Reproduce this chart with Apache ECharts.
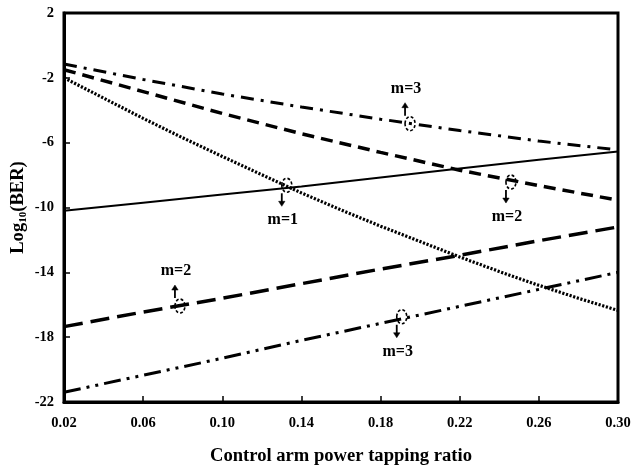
<!DOCTYPE html>
<html>
<head>
<meta charset="utf-8">
<script src="https://cdn.jsdelivr.net/npm/echarts@6/dist/echarts.min.js"></script>
<style>
  html, body { margin: 0; padding: 0; background: #fff; }
  #chart { width: 632px; height: 467px; }
</style>
</head>
<body>
<div id="chart"></div>
<script>
// ---- data ----
var xTicks = [0.02, 0.06, 0.10, 0.14, 0.18, 0.22, 0.26, 0.30];
var yTicks = [2, -2, -6, -10, -14, -18, -22];

var xFine = [0.02, 0.04, 0.06, 0.08, 0.10, 0.12, 0.14, 0.16, 0.18, 0.20, 0.22, 0.24, 0.26, 0.28, 0.30];
var xCoarse = [0.02, 0.06, 0.10, 0.14, 0.18, 0.22, 0.26, 0.30];

// m=1 (dotted, falling)
var m1Down = [-2.0, -3.25, -4.5, -5.7, -6.85, -7.98, -9.1, -10.15, -11.15, -12.1, -13.05, -13.95, -14.8, -15.6, -16.35];
// m=1 (solid, rising)
var m1Up = [-10.2, -9.7, -9.2, -8.7, -8.15, -7.6, -7.05, -6.55];
// m=2 (dashed, falling)
var m2Down = [-1.5, -2.85, -4.2, -5.45, -6.6, -7.7, -8.65, -9.55];
// m=3 (dash-dot, falling)
var m3Down = [-1.15, -2.1, -3.0, -3.8, -4.55, -5.25, -5.9, -6.45];
// m=2 (long dash, rising)
var m2Up = [-17.35, -16.45, -15.6, -14.7, -13.8, -12.95, -12.05, -11.2];
// m=3 (dash-dot-dot, rising)
var m3Up = [-21.4, -20.35, -19.3, -18.2, -17.15, -16.1, -15.05, -14.0];

// annotations: position on curve, label, arrow direction
var annX = [0.1949, 0.2459, 0.1326, 0.0786, 0.1907];
var annY = [-4.83, -8.43, -8.63, -16.08, -16.74];
var annText = ['m=3', 'm=2', 'm=1', 'm=2', 'm=3'];
var annDir = ['up', 'down', 'down', 'up', 'down'];

function pairs(xs, ys) { return xs.map(function (x, i) { return [x, ys[i]]; }); }

var FONT = '"Liberation Serif", "Times New Roman", serif';

function lineSeries(name, xs, ys, width, dash) {
  return {
    name: name, type: 'line', data: pairs(xs, ys), symbol: 'none', smooth: false,
    lineStyle: { color: '#000', width: width, type: dash, cap: 'butt' },
    z: 3
  };
}

var annData = annX.map(function (x, i) { return [x, annY[i], i]; });

var chart = echarts.init(document.getElementById('chart'), null, { renderer: 'canvas' });
chart.setOption({
  animation: false,
  backgroundColor: '#fff',
  grid: { left: 64, right: 14, top: 13, bottom: 65, show: true, borderColor: '#000', borderWidth: 3,
    backgroundColor: 'transparent', outerBoundsMode: 'none', containLabel: false },
  xAxis: {
    type: 'value', min: 0.02, max: 0.30,
    name: 'Control arm power tapping ratio', nameLocation: 'middle', nameGap: 45, nameMoveOverlap: false,
    nameTextStyle: { fontFamily: FONT, fontWeight: 'bold', fontSize: 18.6, color: '#000' },
    axisLine: { show: true, onZero: false, lineStyle: { color: '#000', width: 3 } },
    axisTick: { show: true, inside: true, length: 6, lineStyle: { color: '#000', width: 1.5 }, customValues: xTicks },
    axisLabel: { customValues: xTicks, margin: 14, fontFamily: FONT, fontWeight: 'bold', fontSize: 14.5, color: '#000',
      formatter: function (v) { return v.toFixed(2); } },
    splitLine: { show: false }
  },
  yAxis: {
    type: 'value', min: -22, max: 2,
    name: '{n|Log}{s|10}{n|(BER)}', nameLocation: 'middle', nameGap: 35, nameRotate: 90, nameMoveOverlap: false,
    nameTextStyle: { fontFamily: FONT, fontWeight: 'bold', fontSize: 18.6, color: '#000',
      rich: {
        n: { fontFamily: FONT, fontWeight: 'bold', fontSize: 18.6, color: '#000', lineHeight: 22 },
        s: { fontFamily: FONT, fontWeight: 'bold', fontSize: 11, color: '#000', lineHeight: 22, verticalAlign: 'bottom', padding: [8, 0, 0, 0] }
      } },
    axisLine: { show: true, onZero: false, lineStyle: { color: '#000', width: 3 } },
    axisTick: { show: true, inside: true, length: 6, lineStyle: { color: '#000', width: 1.5 }, customValues: yTicks },
    axisLabel: { customValues: yTicks, margin: 10, fontFamily: FONT, fontWeight: 'bold', fontSize: 14.5, color: '#000' },
    splitLine: { show: false }
  },
  series: [
    lineSeries('m=1 falling', xFine, m1Down, 3.2, [2.2, 1.6]),
    lineSeries('m=1 rising', xCoarse, m1Up, 2, 'solid'),
    lineSeries('m=2 falling', xCoarse, m2Down, 3.5, [12, 7]),
    lineSeries('m=3 falling', xCoarse, m3Down, 3, [13, 7, 3, 7]),
    lineSeries('m=2 rising', xCoarse, m2Up, 3.5, [19, 8]),
    lineSeries('m=3 rising', xCoarse, m3Up, 3, [17, 6, 3, 6, 3, 6]),
    {
      type: 'custom', name: 'annotations', data: annData, z: 5,
      renderItem: function (params, api) {
        var i = api.value(2);
        var p = api.coord([api.value(0), api.value(1)]);
        var cx = p[0], cy = p[1];
        var s = annDir[i] === 'up' ? -1 : 1;
        var ax = cx - 5;
        var y0 = cy + s * 8, y1 = cy + s * 21;
        return {
          type: 'group',
          children: [
            { type: 'ellipse', shape: { cx: cx, cy: cy, rx: 5, ry: 7 },
              style: { fill: 'none', stroke: '#000', lineWidth: 1.6, lineDash: [3, 2] } },
            { type: 'line', shape: { x1: ax, y1: y0, x2: ax, y2: y1 - s * 4 },
              style: { stroke: '#000', lineWidth: 1.8 } },
            { type: 'polygon', shape: { points: [[ax - 3.2, y1 - s * 5], [ax + 3.2, y1 - s * 5], [ax, y1]] },
              style: { fill: '#000', stroke: '#000', lineWidth: 0.5 } },
            { type: 'text', x: ax + 1, y: cy + s * 35,
              style: { text: annText[i], fontFamily: FONT, fontWeight: 'bold', fontSize: 16, fill: '#000',
                textAlign: 'center', textVerticalAlign: 'middle' } }
          ]
        };
      }
    }
  ]
});
</script>
</body>
</html>
